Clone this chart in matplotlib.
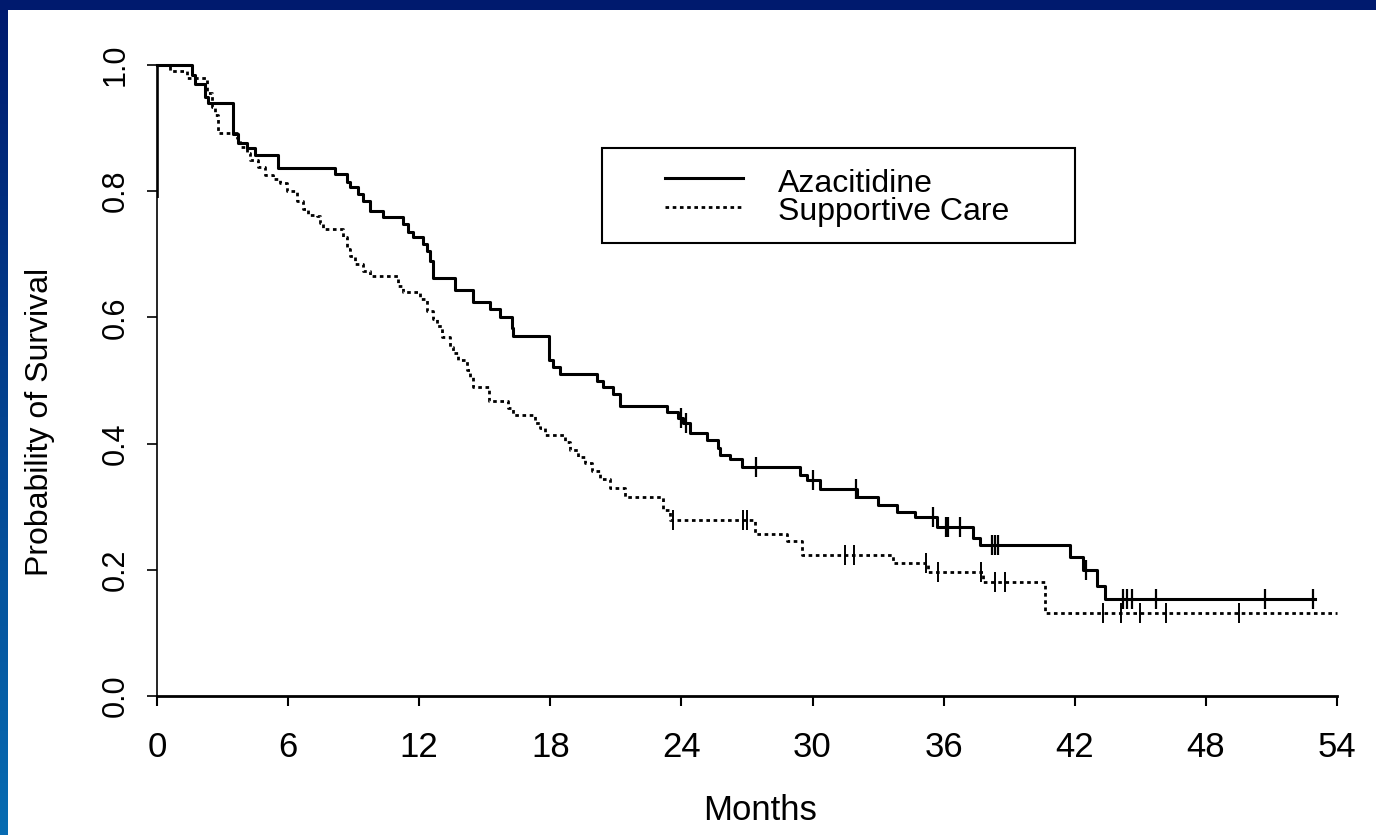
import matplotlib.pyplot as plt
import numpy as np
from matplotlib.patches import Rectangle

plt.rcParams['font.family'] = ['Liberation Sans', 'DejaVu Sans']

# Kaplan-Meier steps: month of each drop, survival after it
aza_t = [0, 1.6, 1.74, 2.2, 2.33, 3.48, 3.7, 4.12, 4.49, 5.54, 8.15, 8.7, 8.83, 9.2, 9.43,
         9.75, 10.34, 11.26, 11.49, 11.72, 12.17, 12.36, 12.49, 12.63, 13.64, 14.46, 15.24,
         15.7, 16.25, 16.29, 17.94, 18.12, 18.44, 20.14, 20.41, 20.87, 21.19, 23.34, 23.84,
         24.07, 24.39, 25.17, 25.68, 25.77, 26.22, 26.77, 29.43, 29.75, 30.34, 32.04, 33.0,
         33.87, 34.69, 35.7, 37.35, 37.67, 41.78, 42.38, 43.02, 43.39]
aza_s = [1.0, 0.984, 0.97, 0.95, 0.94, 0.89, 0.877, 0.868, 0.857, 0.837, 0.827, 0.814, 0.806,
         0.795, 0.784, 0.768, 0.759, 0.748, 0.735, 0.727, 0.716, 0.705, 0.689, 0.663, 0.644,
         0.624, 0.613, 0.6, 0.583, 0.571, 0.533, 0.522, 0.51, 0.499, 0.489, 0.478, 0.459, 0.45,
         0.44, 0.433, 0.417, 0.405, 0.393, 0.382, 0.375, 0.363, 0.35, 0.342, 0.328, 0.316,
         0.303, 0.292, 0.283, 0.268, 0.25, 0.24, 0.22, 0.2, 0.175, 0.154]
aza_end = 53.0
aza_cens = [24.0, 24.2, 27.4, 30.0, 32.0, 35.5, 36.1, 36.2, 36.75, 38.2, 38.35, 38.5,
            42.5, 44.2, 44.4, 44.6, 45.7, 50.7, 52.9]

sc_t = [0, 0.6, 1.37, 2.29, 2.52, 2.65, 2.79, 3.66, 3.8, 4.12, 4.26, 4.62, 4.94, 5.31, 5.63,
        5.95, 6.4, 6.68, 6.91, 7.32, 7.46, 7.6, 8.51, 8.7, 8.83, 9.06, 9.43, 9.75, 11.03,
        11.26, 12.04, 12.36, 12.63, 12.81, 13.04, 13.41, 13.55, 13.78, 14.19, 14.32, 14.46,
        15.19, 16.06, 16.29, 17.3, 17.53, 17.76, 18.67, 18.9, 19.27, 19.59, 19.91, 20.27,
        20.73, 21.4, 23.16, 23.48, 27.37, 28.83, 29.52, 33.68, 35.29, 37.8, 40.64]
sc_s = [1.0, 0.99, 0.98, 0.955, 0.934, 0.92, 0.892, 0.885, 0.87, 0.86, 0.85, 0.838, 0.826,
        0.82, 0.813, 0.8, 0.784, 0.771, 0.763, 0.76, 0.75, 0.74, 0.727, 0.708, 0.697, 0.684,
        0.674, 0.665, 0.65, 0.64, 0.629, 0.61, 0.597, 0.586, 0.569, 0.553, 0.544, 0.533,
        0.517, 0.506, 0.489, 0.467, 0.456, 0.446, 0.433, 0.425, 0.414, 0.403, 0.39, 0.379,
        0.369, 0.357, 0.344, 0.33, 0.315, 0.295, 0.279, 0.257, 0.246, 0.224, 0.211, 0.197,
        0.18, 0.132]
sc_end = 54.0
sc_cens = [23.6, 26.8, 27.0, 31.5, 31.9, 35.2, 35.75, 37.7, 38.35, 38.8, 43.3, 44.1,
           45.0, 46.2, 49.5]

labels = ['Azacitidine', 'Supportive Care']
x_ticks = list(range(0, 55, 6))
y_ticks = [0.0, 0.2, 0.4, 0.6, 0.8, 1.0]

dotted = (0, (1.3, 1.3))


def km_line(t, s, end):
    return np.append(t, end), np.append(s, s[-1])


def censor_y(t, s, c):
    idx = np.searchsorted(t, c, side='right') - 1
    return np.asarray(s)[idx]


W, H = 1376, 835
fig = plt.figure(figsize=(W / 100, H / 100), dpi=100)

# slide frame: navy bar on top, blue gradient strip on the left
bg = fig.add_axes([0, 0, 1, 1], zorder=-5)
bg.set_xlim(0, W)
bg.set_ylim(H, 0)
bg.axis('off')
grad = np.linspace(0, 1, 256)[:, None, None]
top_c = np.array([0, 26, 110]) / 255
bot_c = np.array([8, 108, 178]) / 255
bg.imshow(top_c + grad * (bot_c - top_c), extent=(0, 8, H, 0), aspect='auto')
bg.add_patch(Rectangle((0, 0), W, 10, color=top_c, lw=0))

x0, y0 = 157, 696
px_month = 21.85
px_unit = 631
xmax, ymax = 54.5, 1.02
ax = fig.add_axes([x0 / W, (H - y0) / H, xmax * px_month / W, ymax * px_unit / H])
ax.set_xlim(0, xmax)
ax.set_ylim(0, ymax)

xa, ya = km_line(aza_t, aza_s, aza_end)
xs, ys = km_line(sc_t, sc_s, sc_end)
ax.step(xa, ya, where='post', color='black', lw=2.2, clip_on=False)
ax.step(xs, ys, where='post', color='black', lw=2.0, ls=dotted, clip_on=False)
ax.vlines(0, 0.79, 1.0, color='black', lw=2.6)

ax.plot(aza_cens, censor_y(aza_t, aza_s, aza_cens), ls='none', marker='|',
        ms=14, mew=1.6, color='black', clip_on=False)
ax.plot(sc_cens, censor_y(sc_t, sc_s, sc_cens), ls='none', marker='|',
        ms=14, mew=1.4, color='black', clip_on=False)

for side in ['top', 'right']:
    ax.spines[side].set_visible(False)
ax.spines['left'].set_bounds(0, 1)
ax.spines['bottom'].set_bounds(0, 54)
ax.spines['left'].set_linewidth(1.2)
ax.spines['bottom'].set_linewidth(2.0)

ax.set_xticks(x_ticks)
ax.set_xticklabels([str(v) for v in x_ticks])
ax.set_yticks(y_ticks)
ax.set_yticklabels([f'{v:.1f}' for v in y_ticks], rotation=90, va='center')
ax.tick_params(axis='x', length=7, width=1.5, labelsize=25, pad=18)
ax.tick_params(axis='y', length=7, width=1.2, labelsize=22, pad=12)

fig.text(40 / W, 1 - 422 / H, 'Probability of Survival', rotation=90,
         ha='center', va='center', fontsize=23)
fig.text(760 / W, 1 - 810 / H, 'Months', ha='center', va='center', fontsize=25)

# legend box, laid out in figure pixels like the original
lg = fig.add_axes([0, 0, 1, 1], zorder=5)
lg.set_xlim(0, W)
lg.set_ylim(H, 0)
lg.axis('off')
lg.add_patch(Rectangle((602, 148), 473, 95, facecolor='white', edgecolor='black', lw=1.5))
lg.plot([665, 743], [178, 178], color='black', lw=2.2)
lg.plot([665, 743], [207, 207], color='black', lw=2.0, ls=dotted)
lg.text(778, 192, labels[0], va='baseline', ha='left', fontsize=23)
lg.text(778, 220, labels[1], va='baseline', ha='left', fontsize=23)

fig.savefig('out.png', dpi=100)
